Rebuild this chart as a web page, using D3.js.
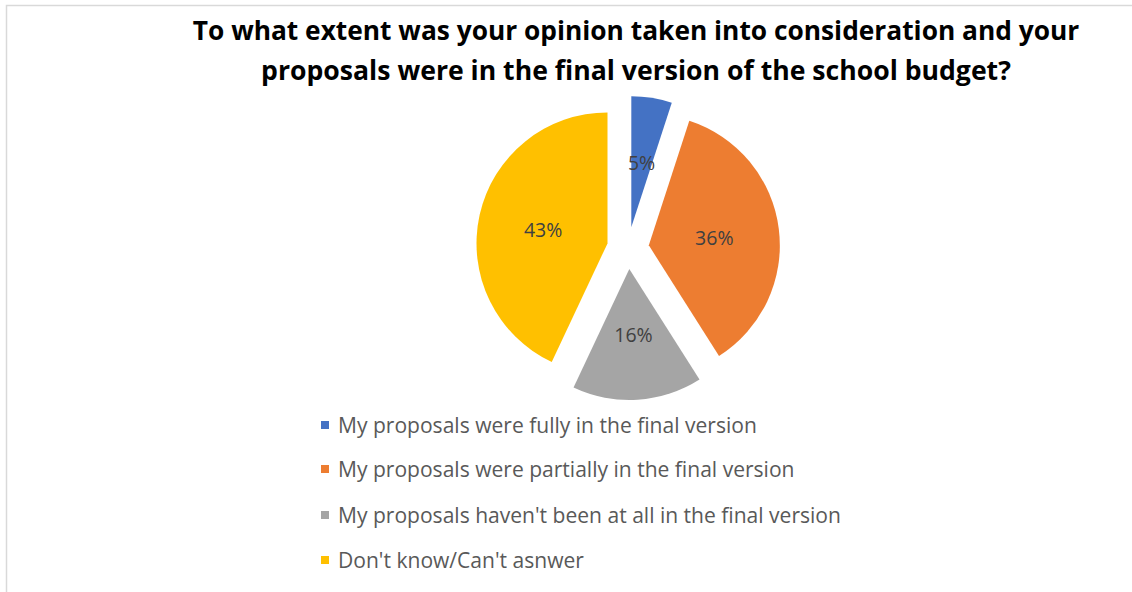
<!DOCTYPE html>
<html><head><meta charset="utf-8">
<script src="https://cdn.jsdelivr.net/npm/d3@7"></script>
<style>html,body{margin:0;padding:0;background:#fff;overflow:hidden}</style>
</head><body>
<svg id="chart" width="1132" height="592"></svg>
<script>
const titleLines = ["To what extent was your opinion taken into consideration and your",
                    "proposals were in the final version of the school budget?"];
const categories = ["My proposals were fully in the final version",
                    "My proposals were partially in the final version",
                    "My proposals haven't been at all in the final version",
                    "Don't know/Can't asnwer"];
const values = [5, 36, 16, 43];
const colors = ["#4472C4", "#ED7D31", "#A5A5A5", "#FFC000"];

const svg = d3.select("#chart");
svg.append("rect").attr("x",6.5).attr("y",5.5).attr("width",1140).attr("height",600)
  .attr("fill","#fff").attr("stroke","#d9d9d9").attr("stroke-width",1.5);

// title
const tw = [887, 750];
const tcx = 636;
titleLines.forEach((t,i)=>{
  const el = svg.append("text").attr("x",tcx).attr("y",[40,80][i]).attr("text-anchor","middle")
    .attr("font-family","'Open Sans', sans-serif").attr("font-weight","bold").attr("font-size",26)
    .attr("fill","#000").text(t);
  const w = el.node().getComputedTextLength();
  el.attr("font-size", 26*tw[i]/w);
});

// pie
const cx = 628, cy = 248, r = 131, explode = 21;
const pie = d3.pie().sort(null).value(d=>d)(values);
const arc = d3.arc().innerRadius(0).outerRadius(r);
const g = svg.append("g").attr("transform",`translate(${cx},${cy})`);
const fmt = d3.format(".0%");
const total = d3.sum(values);
pie.forEach((d,i)=>{
  const mid = (d.startAngle+d.endAngle)/2;
  const ox = explode*Math.sin(mid), oy = -explode*Math.cos(mid);
  const sg = g.append("g").attr("transform",`translate(${ox},${oy})`);
  sg.append("path").attr("d",arc(d)).attr("fill",colors[i]);
  const lr = 66;
  sg.append("text").attr("x",lr*Math.sin(mid)).attr("y",-lr*Math.cos(mid))
    .attr("text-anchor","middle").attr("dominant-baseline","central")
    .attr("font-family","'Open Sans', sans-serif").attr("font-size",19.5)
    .attr("fill","#404040").text(fmt(d.data/total));
});

// legend
const ly = [425, 469, 515, 560];
const legendW = 419;
const lg = svg.append("g");
categories.forEach((c,i)=>{
  lg.append("rect").attr("x",321).attr("y",ly[i]-4).attr("width",8).attr("height",8).attr("fill",colors[i]);
  const el = lg.append("text").attr("class","lt").attr("x",338).attr("y",ly[i]).attr("dominant-baseline","central")
    .attr("font-family","'Open Sans', sans-serif").attr("font-size",19).attr("fill","#595959").text(c);
});
const first = lg.select(".lt").node().getComputedTextLength();
lg.selectAll(".lt").attr("font-size", 19*legendW/first);
</script>
</body></html>
